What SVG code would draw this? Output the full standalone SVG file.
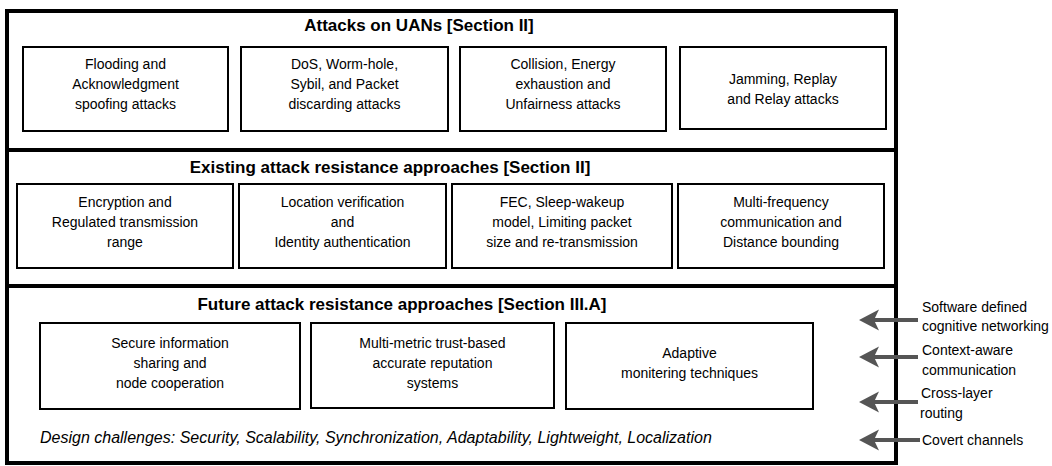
<svg xmlns="http://www.w3.org/2000/svg" width="1052" height="466" viewBox="0 0 1052 466">
<defs>
<style>
.frame{fill:#fff;stroke:#000;stroke-width:4}
.box{fill:#fff;stroke:#000;stroke-width:2}
.t{font-family:"Liberation Sans",Arial,sans-serif;font-size:14px;fill:#000;text-anchor:middle}
.h{font-family:"Liberation Sans",Arial,sans-serif;font-size:17px;font-weight:bold;fill:#000;text-anchor:middle}
.i{font-family:"Liberation Sans",Arial,sans-serif;font-size:16px;font-style:italic;fill:#000}
.r{font-family:"Liberation Sans",Arial,sans-serif;font-size:14px;fill:#000}
.arr{stroke:#555;stroke-width:4;fill:none;marker-end:url(#head)}
</style>
<marker id="head" markerUnits="userSpaceOnUse" markerWidth="22" markerHeight="22" refX="5" refY="10.5" orient="auto" viewBox="0 0 22 22">
<path d="M20,10.5 L0,0 L5,10.5 L0,21 Z" fill="#555"/>
</marker>
</defs>
<rect width="1052" height="466" fill="#fff"/>

<g id="sec1">
<rect class="frame" x="7" y="11" width="889" height="139"/>
<text class="h" x="419" y="31">Attacks on UANs [Section II]</text>
</g>
<g id="sec2">
<rect class="frame" x="7" y="150" width="889" height="136"/>
<text class="h" x="390" y="173">Existing attack resistance approaches [Section II]</text>
</g>
<g id="sec3">
<rect class="frame" x="7" y="286" width="889" height="177"/>
<text class="h" x="402" y="310">Future attack resistance approaches [Section III.A]</text>
<text class="i" x="40" y="443">Design challenges: Security, Scalability, Synchronization, Adaptability, Lightweight, Localization</text>
</g>

<g id="a1">
<rect class="box" x="23" y="47" width="205" height="84"/>
<text class="t" x="125.5" y="69">Flooding and</text>
<text class="t" x="125.5" y="89">Acknowledgment</text>
<text class="t" x="125.5" y="109">spoofing attacks</text>
</g>
<g id="a2">
<rect class="box" x="241" y="47" width="207" height="84"/>
<text class="t" x="344.5" y="69">DoS, Worm-hole,</text>
<text class="t" x="344.5" y="89">Sybil, and Packet</text>
<text class="t" x="344.5" y="109">discarding attacks</text>
</g>
<g id="a3">
<rect class="box" x="460" y="47" width="206" height="84"/>
<text class="t" x="563" y="69">Collision, Energy</text>
<text class="t" x="563" y="89">exhaustion and</text>
<text class="t" x="563" y="109">Unfairness attacks</text>
</g>
<g id="a4">
<rect class="box" x="680" y="47" width="206" height="82"/>
<text class="t" x="783" y="84">Jamming, Replay</text>
<text class="t" x="783" y="104">and Relay attacks</text>
</g>

<g id="e1">
<rect class="box" x="17" y="184" width="216" height="84"/>
<text class="t" x="125" y="207">Encryption and</text>
<text class="t" x="125" y="227">Regulated transmission</text>
<text class="t" x="125" y="247">range</text>
</g>
<g id="e2">
<rect class="box" x="239" y="184" width="207" height="84"/>
<text class="t" x="342.5" y="207">Location verification</text>
<text class="t" x="342.5" y="227">and</text>
<text class="t" x="342.5" y="247">Identity authentication</text>
</g>
<g id="e3">
<rect class="box" x="452" y="184" width="220" height="84"/>
<text class="t" x="562" y="207">FEC, Sleep-wakeup</text>
<text class="t" x="562" y="227">model, Limiting packet</text>
<text class="t" x="562" y="247">size and re-transmission</text>
</g>
<g id="e4">
<rect class="box" x="678" y="184" width="206" height="84"/>
<text class="t" x="781" y="207">Multi-frequency</text>
<text class="t" x="781" y="227">communication and</text>
<text class="t" x="781" y="247">Distance bounding</text>
</g>

<g id="f1">
<rect class="box" x="40" y="323" width="260" height="86"/>
<text class="t" x="170" y="348">Secure information</text>
<text class="t" x="170" y="368">sharing and</text>
<text class="t" x="170" y="388">node cooperation</text>
</g>
<g id="f2">
<rect class="box" x="311" y="323" width="243" height="85"/>
<text class="t" x="432.5" y="348">Multi-metric trust-based</text>
<text class="t" x="432.5" y="368">accurate reputation</text>
<text class="t" x="432.5" y="388">systems</text>
</g>
<g id="f3">
<rect class="box" x="566" y="323" width="247" height="86"/>
<text class="t" x="689.5" y="358">Adaptive</text>
<text class="t" x="689.5" y="378">monitering techniques</text>
</g>

<g id="connectors">
<line class="arr" x1="918" y1="320" x2="874" y2="320"/>
<line class="arr" x1="918" y1="357" x2="874" y2="357"/>
<line class="arr" x1="918" y1="402" x2="874" y2="402"/>
<line class="arr" x1="920" y1="440" x2="874" y2="440"/>
</g>

<g id="labels">
<text class="r" x="922" y="312">Software defined</text>
<text class="r" x="922" y="331">cognitive networking</text>
<text class="r" x="922" y="355">Context-aware</text>
<text class="r" x="922" y="375">communication</text>
<text class="r" x="921" y="398">Cross-layer</text>
<text class="r" x="920" y="418">routing</text>
<text class="r" x="922" y="445">Covert channels</text>
</g>
</svg>
